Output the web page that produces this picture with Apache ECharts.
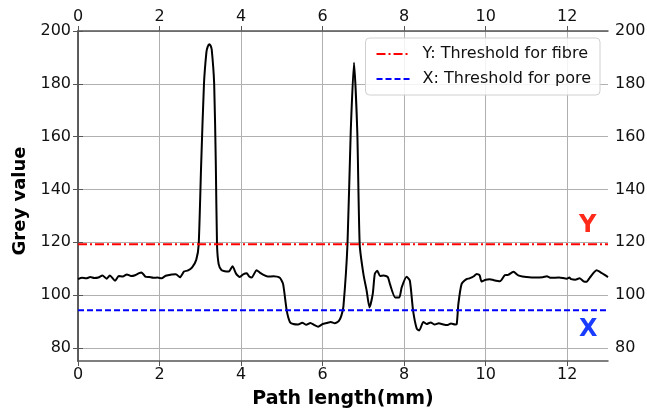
<!DOCTYPE html>
<html>
<head>
<meta charset="utf-8">
<script src="https://cdn.jsdelivr.net/npm/echarts@6/dist/echarts.min.js"></script>
<style>
  html, body { margin: 0; padding: 0; background: #fff; }
  #main { width: 647px; height: 410px; }
</style>
</head>
<body>
<div id="main"></div>
<script>
// profile
var pathLength = [0, 0.1, 0.2, 0.3, 0.4, 0.5, 0.6, 0.7, 0.78, 0.91, 1.0, 1.1, 1.2, 1.3, 1.4, 1.5, 1.56, 1.65, 1.75, 1.85, 1.95,
  2.05, 2.15, 2.3, 2.4, 2.5, 2.6, 2.7, 2.8, 2.9, 2.96, 3.02, 3.09, 3.15, 3.18, 3.22, 3.25, 3.28, 3.34, 3.38, 3.41, 3.45, 3.52,
  3.6, 3.7, 3.79, 3.88, 3.97, 4.05, 4.14, 4.2, 4.26, 4.38, 4.46, 4.55, 4.65, 4.8, 4.95, 5.03, 5.12, 5.2, 5.28, 5.4, 5.5, 5.6,
  5.7, 5.8, 5.89, 6.0, 6.1, 6.2, 6.3, 6.4, 6.46, 6.51, 6.61, 6.69, 6.77, 6.85, 6.91, 7.0, 7.08, 7.15, 7.23, 7.28, 7.34, 7.41,
  7.5, 7.6, 7.65, 7.78, 7.88, 7.94, 8.06, 8.14, 8.22, 8.31, 8.37, 8.47, 8.55, 8.65, 8.75, 8.85, 8.95, 9.05, 9.15, 9.25, 9.29,
  9.33, 9.41, 9.53, 9.6, 9.7, 9.78, 9.85, 9.9, 10.0, 10.1, 10.2, 10.35, 10.47, 10.55, 10.68, 10.8, 10.9, 11.0, 11.2, 11.4,
  11.5, 11.6, 11.8, 11.99, 12.05, 12.1, 12.2, 12.3, 12.4, 12.47, 12.55, 12.65, 12.72, 12.8, 12.9, 13.0];
var greyValue = [106.0, 106.5, 106.3, 106.8, 106.4, 106.6, 107.4, 106.2, 107.4, 105.4, 107.2, 107.0, 107.8, 107.2, 107.5, 108.3, 108.5, 107.0, 106.8, 106.5, 106.6,
  106.3, 107.3, 107.8, 107.9, 106.7, 108.9, 109.3, 110.5, 113.3, 119, 149, 180, 192, 194, 195, 194.5, 193, 180, 150, 119, 111.7, 109.4,
  109.0, 108.9, 110.9, 108.0, 106.8, 107.8, 108.2, 107, 106.6, 109.4, 108.5, 107.6, 107.0, 107.1, 106.5, 104.2, 94.1, 89.7, 89.0, 88.8, 89.5, 88.7,
  89.4, 88.6, 88.0, 89.0, 89.4, 89.8, 89.3, 90.2, 92.2, 95.6, 119.2, 162, 188, 162, 119, 108, 101.6, 95.3, 100.4, 108, 109.2, 107.2,
  107.4, 106.8, 104.2, 99.1, 99.1, 102.9, 106.9, 105.4, 94, 87.2, 86.6, 89.8, 89.0, 89.6, 88.8, 89.3, 88.9, 88.6, 89.2, 88.8, 89.0,
  96.6, 104.2, 106, 106.3, 107, 108, 107.5, 105.1, 105.8, 106.0, 105.6, 105.2, 107.5, 107.6, 108.8, 107.4, 107.0, 106.8, 106.6, 106.7,
  107.1, 106.5, 106.6, 106.2, 106.6, 106.0, 105.8, 106.3, 105.2, 105.0, 106.5, 108.5, 109.4, 108.8, 107.8, 106.8];

var fibreThreshold = 119.2;
var poreThreshold = 94.2;
var xRange = [0, 13];
var xTicks = [0, 2, 4, 6, 8, 10, 12];
var yTicks = [80, 100, 120, 140, 160, 180, 200];
var legendNames = ['Y: Threshold for fibre', 'X: Threshold for pore'];

var profile = pathLength.map(function (x, i) { return [x, greyValue[i]]; });
function flat(v) { return [[xRange[0], v], [xRange[1], v]]; }

var font = 'DejaVu Sans';
var myChart = echarts.init(document.getElementById('main'));

function xAxisOf(pos) {
  return {
    type: 'value', position: pos, min: xRange[0], max: xRange[1],
    axisLine: { show: true, onZero: false, lineStyle: { color: '#555', width: 1.5 } },
    axisTick: { show: true, inside: false, length: 5, customValues: xTicks, lineStyle: { color: '#555' } },
    axisLabel: { color: '#111', fontSize: 16, fontFamily: font, margin: 6, customValues: xTicks },
    splitLine: { show: pos === 'bottom', lineStyle: { color: '#b0b0b0', width: 1 } }
  };
}
function yAxisOf(pos) {
  return {
    type: 'value', position: pos, min: 75, max: 200,
    axisLine: { show: true, lineStyle: { color: '#555', width: 1.5 } },
    axisTick: { show: true, inside: false, length: 5, customValues: yTicks, lineStyle: { color: '#555' } },
    axisLabel: { color: '#111', fontSize: 16, fontFamily: font, margin: 7, customValues: yTicks },
    splitLine: { show: pos === 'left', lineStyle: { color: '#b0b0b0', width: 1 } }
  };
}

var xBottom = xAxisOf('bottom');
xBottom.name = 'Path length(mm)';
xBottom.nameLocation = 'middle';
xBottom.nameGap = 29;
xBottom.nameTextStyle = { fontSize: 19, fontWeight: 'bold', fontFamily: font, color: '#000' };
var yLeft = yAxisOf('left');
yLeft.name = 'Grey value';
yLeft.nameLocation = 'middle';
yLeft.nameGap = 33;
yLeft.nameTextStyle = { fontSize: 18, fontWeight: 'bold', fontFamily: font, color: '#000', padding: [0, 10, 0, 0] };

var option = {
  animation: false,
  grid: { left: 78, right: 39, top: 31, bottom: 49, containLabel: false, outerBoundsMode: 'none' },
  legend: {
    data: legendNames,
    orient: 'vertical',
    right: 47, top: 38,
    itemWidth: 33, itemHeight: 14, itemGap: 9,
    padding: [8, 9, 8, 10],
    borderColor: '#d0d0d0', borderWidth: 1, borderRadius: 4,
    backgroundColor: 'rgba(255,255,255,0.85)',
    itemStyle: { opacity: 0 },
    textStyle: { fontSize: 16, fontFamily: font, color: '#111', padding: [0, 0, 0, 8] }
  },
  xAxis: [xBottom, xAxisOf('top')],
  yAxis: [yLeft, yAxisOf('right')],
  graphic: [
    { type: 'text', left: 579, top: 214, style: { text: 'Y', fill: '#ff2a1a', font: 'bold 24px DejaVu Sans' } },
    { type: 'text', left: 579, top: 318, style: { text: 'X', fill: '#1a3cff', font: 'bold 24px DejaVu Sans' } }
  ],
  series: [
    {
      name: 'profile', type: 'line', data: profile, symbol: 'none', smooth: 0.2,
      lineStyle: { color: '#000', width: 2 }, z: 3
    },
    {
      name: legendNames[0], type: 'line', data: flat(fibreThreshold), symbol: 'none',
      lineStyle: { color: '#ff0000', width: 2, type: [9, 3, 2, 3] }, itemStyle: { color: '#ff0000' }
    },
    {
      name: legendNames[1], type: 'line', data: flat(poreThreshold), symbol: 'none',
      lineStyle: { color: '#0000ff', width: 2, type: [6, 3] }, itemStyle: { color: '#0000ff' }
    }
  ]
};
myChart.setOption(option);
</script>
</body>
</html>
